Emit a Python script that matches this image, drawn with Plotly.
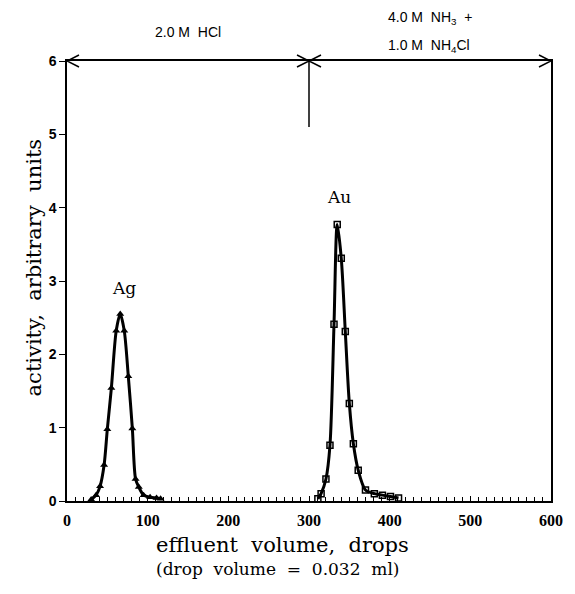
import plotly.graph_objects as go

# Ag peak (triangles), eluted with 2.0 M HCl
ag_x = [30, 36, 41, 46, 50, 55, 61, 66, 71, 76, 81, 85, 89, 95, 103, 111, 116]
ag_y = [0.02, 0.08, 0.20, 0.49, 0.98, 1.54, 2.32, 2.55, 2.32, 1.70, 0.99, 0.30, 0.19, 0.08, 0.05, 0.04, 0.03]

# Au peak (squares), eluted with 4.0 M NH3 + 1.0 M NH4Cl
au_x = [311, 315, 321, 326, 331, 335, 340, 345, 350, 355, 361, 370, 381, 391, 401, 411]
au_y = [0.03, 0.10, 0.30, 0.76, 2.41, 3.77, 3.31, 2.31, 1.33, 0.78, 0.42, 0.15, 0.10, 0.08, 0.06, 0.04]

x_ticks = [0, 100, 200, 300, 400, 500, 600]
y_ticks = [0, 1, 2, 3, 4, 5, 6]

fig = go.Figure()
fig.add_trace(go.Scatter(
    x=ag_x, y=ag_y, mode="lines+markers",
    line=dict(color="black", width=3, shape="spline", smoothing=0.8),
    marker=dict(symbol="triangle-up", size=7, color="black"),
    showlegend=False))
fig.add_trace(go.Scatter(
    x=au_x, y=au_y, mode="lines+markers",
    line=dict(color="black", width=3, shape="spline", smoothing=0.8),
    marker=dict(symbol="square-open", size=6, color="black", line=dict(width=1.5)),
    showlegend=False))

fig.update_xaxes(
    range=[0, 600], tickvals=x_ticks, ticktext=[str(v) for v in x_ticks],
    showline=True, linecolor="black", linewidth=1.5, mirror=True,
    ticks="inside", ticklen=5, tickcolor="black",
    minor=dict(dtick=10, ticks="inside", ticklen=4, tickcolor="black"),
    showgrid=False, zeroline=False, ticklabelstandoff=4,
    tickfont=dict(family="Liberation Serif", size=16, color="black", weight="bold"),
)
fig.update_yaxes(
    range=[0, 6], tickvals=y_ticks, ticktext=[str(v) for v in y_ticks],
    showline=True, linecolor="black", linewidth=1.5, mirror=True,
    ticks="outside", ticklen=6, tickcolor="black",
    showgrid=False, zeroline=False,
    tickfont=dict(family="Liberation Sans", size=14, color="black", weight="bold"),
)

shapes = [
    dict(type="line", x0=300, x1=300, y0=5.1, y1=6, xref="x", yref="y",
         line=dict(color="black", width=1.5)),
]
chev = [(0, "M 12,6 L 0,0 L 12,-6"), (300, "M -12,6 L 0,0 L -12,-6"),
        (300, "M 12,6 L 0,0 L 12,-6"), (600, "M -12,6 L 0,0 L -12,-6")]
for xa, p in chev:
    shapes.append(dict(type="path", path=p, xsizemode="pixel", ysizemode="pixel",
                       xanchor=xa, yanchor=1, xref="x", yref="paper",
                       line=dict(color="black", width=1.5)))
fig.update_layout(shapes=shapes)

sans = dict(family="Liberation Sans", size=14, color="black")
serif = dict(family="DejaVu Serif", size=21, color="black")
annotations = [
    dict(text="2.0 M  HCl", x=150, y=1.066, xref="x", yref="paper", showarrow=False,
         xanchor="center", yanchor="middle", font=sans),
    dict(text="4.0 M  NH<sub>3</sub>  +", x=396, y=1.098, xref="x", yref="paper",
         xanchor="left", yanchor="middle", showarrow=False, font=sans),
    dict(text="1.0 M  NH<sub>4</sub>Cl", x=396, y=1.034, xref="x", yref="paper",
         xanchor="left", yanchor="middle", showarrow=False, font=sans),
    dict(text="Ag", x=71, y=2.9, xref="x", yref="y", showarrow=False,
         font=dict(family="DejaVu Serif", size=17, color="black")),
    dict(text="Au", x=337, y=4.15, xref="x", yref="y", showarrow=False,
         font=dict(family="DejaVu Serif", size=17, color="black")),
    dict(text="activity,  arbitrary  units", x=-0.069, y=0.53, xref="paper", yref="paper",
         xanchor="center", yanchor="middle",
         textangle=-90, showarrow=False, font=serif),
    dict(text="effluent  volume,  drops", x=0.446, y=-0.10, xref="paper", yref="paper",
         xanchor="center", yanchor="middle", showarrow=False, font=serif),
    dict(text="(drop  volume  =  0.032  ml)", x=0.435, y=-0.155, xref="paper", yref="paper",
         xanchor="center", yanchor="middle", showarrow=False,
         font=dict(family="DejaVu Serif", size=17, color="black")),
]
fig.update_layout(
    annotations=annotations,
    width=575, height=594,
    margin=dict(l=67, r=17, t=61, b=93),
    paper_bgcolor="white", plot_bgcolor="white",
)
fig.write_html("out.html")
